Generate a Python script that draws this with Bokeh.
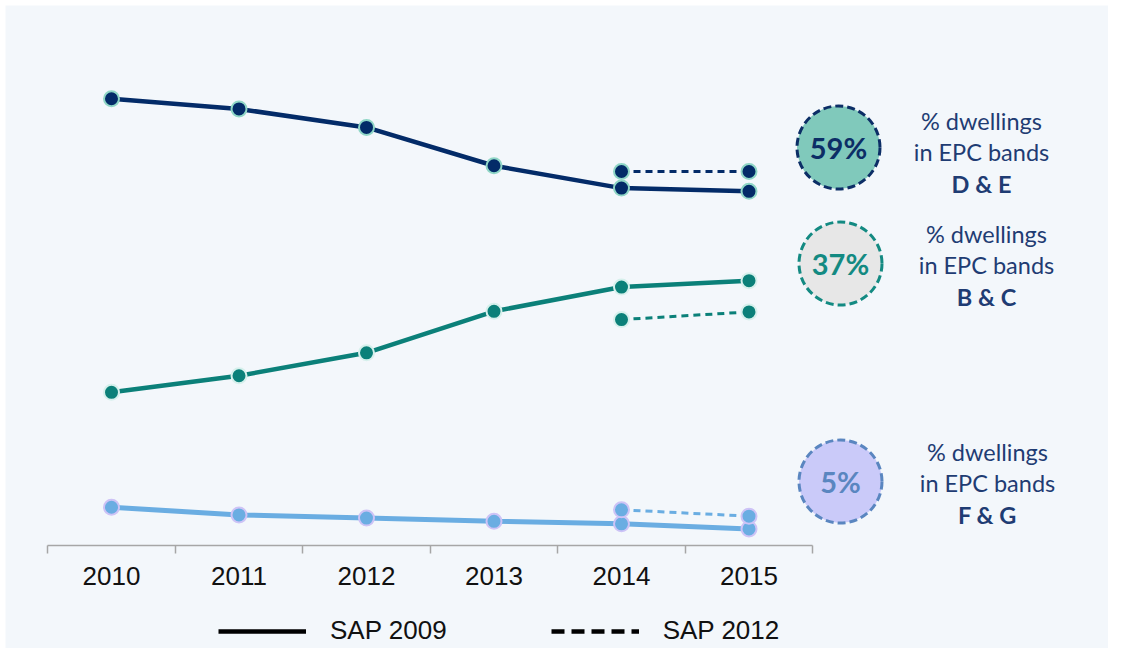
from bokeh.plotting import figure
from bokeh.models import Range1d, FixedTicker, Legend, LegendItem
from bokeh.core.properties import value
from bokeh.embed import file_html
from bokeh.resources import INLINE

# ---------------- data ----------------
years = ["2010", "2011", "2012", "2013", "2014", "2015"]
de_sap2009 = [70.4, 68.8, 65.9, 59.9, 56.4, 55.9]
bc_sap2009 = [24.4, 27.0, 30.6, 37.1, 40.9, 41.9]
fg_sap2009 = [6.4, 5.2, 4.7, 4.2, 3.8, 3.0]
sap2012_years = ["2014", "2015"]
de_sap2012 = [59.0, 59.0]
bc_sap2012 = [35.8, 37.0]
fg_sap2012 = [6.0, 5.0]
band_labels = ["D & E", "B & C", "F & G"]
share_2015 = ["59%", "37%", "5%"]
legend_labels = ["SAP 2009", "SAP 2012"]

# ---------------- styles ----------------
BG = "#f3f7fb"
TXT = "#1f3c73"
line_colors = ["#032b68", "#0b8079", "#6aade2"]
marker_edges = ["#8fd6c6", "#d6f0ec", "#cdc3f6"]
circle_fills = ["#80c9bb", "#e7e7e7", "#cacaf9"]
circle_edges = ["#0c2e66", "#138a82", "#5a86c0"]

W, H = 1108, 648
PAD = 5
AXIS_Y = 545
XK = 127.5
X0 = -(111 - PAD) / XK
X1 = X0 + (W - PAD) / XK
YK = 6.383
Y1 = (547.6 - PAD) / YK
Y0 = Y1 - (H - PAD) / YK


def sx(px):
    return X0 + (px - PAD) / XK


def sy(py):
    return Y1 - (py - PAD) / YK


p = figure(width=W, height=H, output_backend="svg", toolbar_location=None,
           x_range=Range1d(X0, X1), y_range=Range1d(Y0, Y1),
           y_axis_location=None,
           min_border_left=PAD, min_border_right=0, min_border_top=PAD,
           min_border_bottom=0,
           background_fill_color=BG, border_fill_color="white",
           outline_line_color=None)
p.grid.visible = False

xi = list(range(len(years)))
x12 = [years.index(y) for y in sap2012_years]

series09 = [de_sap2009, bc_sap2009, fg_sap2009]
series12 = [de_sap2012, bc_sap2012, fg_sap2012]
widths = [4.5, 4.5, 5]

for s09, s12, lc, lw in zip(series09, series12, line_colors, widths):
    p.line(xi, s09, line_color=lc, line_width=lw)
    p.line(x12, s12, line_color=lc, line_width=3, line_dash="7 5")
for s09, s12, lc, me in zip(series09, series12, line_colors, marker_edges):
    p.scatter(xi, s09, size=15, fill_color=lc, line_color=me, line_width=2)
    p.scatter(x12, s12, size=15, fill_color=lc, line_color=me, line_width=2)

# ---------------- right-hand annotations ----------------
circ_pos = [(838, 147), (840, 263), (840, 481)]
text_pos = [(981, 120), (986, 233), (987, 451)]
for (cx, cy), fill, edge, share in zip(circ_pos, circle_fills, circle_edges, share_2015):
    p.scatter([sx(cx)], [sy(cy)], size=83, fill_color=fill, line_color=edge,
              line_width=3, line_dash="8 4")
    p.text([sx(cx)], [sy(cy)], text=[share], text_color=edge,
           text_font=value("Lato"), text_font_style="bold", text_font_size="29px",
           text_align="center", text_baseline="middle")

for (tx, ty), band in zip(text_pos, band_labels):
    p.text([sx(tx)] * 2, [sy(ty), sy(ty + 31.5)], text=["% dwellings", "in EPC bands"],
           text_color=TXT, text_font=value("Lato"), text_font_size="23.5px",
           text_align="center", text_baseline="middle")
    p.text([sx(tx)], [sy(ty + 63)], text=[band], text_color=TXT,
           text_font=value("Lato"), text_font_style="bold", text_font_size="23.5px",
           text_align="center", text_baseline="middle")

# ---------------- axis ----------------
ax = p.xaxis[0]
ax.fixed_location = sy(AXIS_Y)
ax.ticker = FixedTicker(ticks=xi, minor_ticks=[i - 0.5 for i in range(len(years) + 1)])
ax.major_label_overrides = {i: y for i, y in enumerate(years)}
ax.bounds = (-0.5, len(years) - 0.5)
ax.axis_line_color = "#a6a6a6"
ax.axis_line_width = 1.5
ax.major_tick_line_color = None
ax.major_tick_in = 0
ax.major_tick_out = 0
ax.minor_tick_line_color = "#a6a6a6"
ax.minor_tick_line_width = 1.5
ax.minor_tick_in = 0
ax.minor_tick_out = 8
ax.major_label_text_font = "Liberation Sans"
ax.major_label_text_font_size = "26px"
ax.major_label_text_color = "#111111"
ax.major_label_standoff = 13

# ---------------- legend ----------------
nan = float("nan")
r09 = p.line(x=[nan, nan], y=[nan, nan], line_color="black", line_width=4.5)
r12 = p.line(x=[nan, nan], y=[nan, nan], line_color="black", line_width=4.5, line_dash="13 7")
legend = Legend(items=[LegendItem(label=legend_labels[0], renderers=[r09]),
                       LegendItem(label=legend_labels[1], renderers=[r12])],
                orientation="horizontal", location=(218 - PAD, 2),
                glyph_width=88, glyph_height=20, label_standoff=24, spacing=104,
                padding=2, margin=0,
                label_text_font="Liberation Sans", label_text_font_size="26px",
                label_text_color="#111111",
                background_fill_alpha=0, border_line_color=None)
p.add_layout(legend)

open("out.html", "w").write(file_html(p, INLINE))
